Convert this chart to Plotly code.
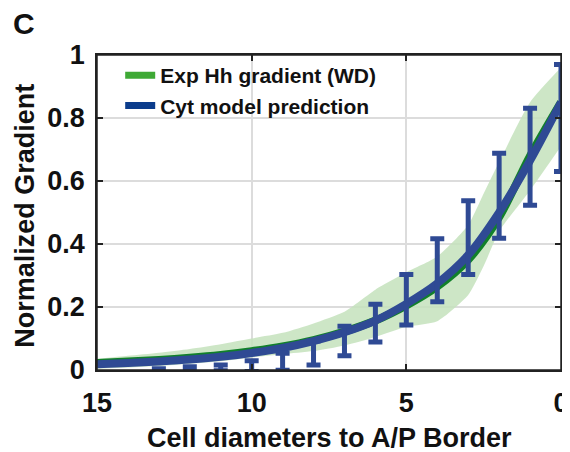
import plotly.graph_objects as go

# ---- data ----
dist = [15, 14, 13, 12, 11, 10, 9, 8, 7, 6, 5, 4, 3, 2, 1, 0]
exp_hh = [0.022, 0.027, 0.032, 0.039, 0.048, 0.060, 0.075, 0.095, 0.122, 0.157, 0.205, 0.265, 0.350, 0.485, 0.680, 0.850]
cyt_model = [0.018, 0.022, 0.027, 0.033, 0.042, 0.054, 0.070, 0.092, 0.120, 0.157, 0.210, 0.275, 0.365, 0.500, 0.665, 0.850]

band_x = [15, 14, 13, 12, 11, 10, 9, 8, 7, 6, 5, 4, 3, 2.5, 2, 1, 0]
band_upper = [0.035, 0.045, 0.055, 0.067, 0.082, 0.100, 0.118, 0.148, 0.185, 0.255, 0.310, 0.360, 0.460, 0.560, 0.660, 0.850, 0.960]
band_lower = [0.004, 0.008, 0.013, 0.020, 0.028, 0.040, 0.050, 0.060, 0.078, 0.105, 0.137, 0.155, 0.238, 0.330, 0.440, 0.570, 0.710]

bar_x = [13, 12, 11, 10, 9, 8, 7, 6, 5, 4, 3, 2, 1, 0]
bar_mean = [0.000, 0.0035, 0.007, 0.012, 0.026, 0.054, 0.092, 0.149, 0.223, 0.317, 0.420, 0.553, 0.677, 0.800]
bar_err = [0.004, 0.0065, 0.009, 0.017, 0.027, 0.038, 0.047, 0.060, 0.080, 0.100, 0.117, 0.135, 0.154, 0.170]

x_ticks = [15, 10, 5, 0]
y_ticks = [0, 0.2, 0.4, 0.6, 0.8, 1]
y_tick_text = ["0", "0.2", "0.4", "0.6", "0.8", "1"]

# ---- styles ----
FONT = "Liberation Sans, Arial, Helvetica, sans-serif"
BLUE = "#2f4a94"
GREEN_LINE = "#11802a"
BAND = "rgba(196,226,188,0.85)"
LEG_GREEN = "#3ea935"
LEG_BLUE = "#0b3c8c"
TXT = "#111111"
FRAME = "#222222"

fig = go.Figure()

fig.add_trace(go.Scatter(x=band_x, y=band_upper, mode="lines",
                         line=dict(width=0, shape="spline", smoothing=0.6),
                         showlegend=False, hoverinfo="skip"))
fig.add_trace(go.Scatter(x=band_x, y=band_lower, mode="lines",
                         line=dict(width=0, shape="spline", smoothing=0.6),
                         fill="tonexty", fillcolor=BAND, showlegend=False, hoverinfo="skip"))
fig.add_trace(go.Scatter(x=dist, y=exp_hh, mode="lines",
                         line=dict(color=GREEN_LINE, width=8, shape="spline", smoothing=0.8),
                         showlegend=False))
fig.add_trace(go.Scatter(x=dist, y=cyt_model, mode="lines",
                         line=dict(color=BLUE, width=8, shape="spline", smoothing=0.8),
                         showlegend=False))
fig.add_trace(go.Scatter(x=bar_x, y=bar_mean, mode="markers",
                         marker=dict(size=1, color=BLUE, opacity=0),
                         error_y=dict(type="data", array=bar_err, visible=True,
                                      color=BLUE, thickness=5, width=7),
                         cliponaxis=False, showlegend=False))

# legend entries
fig.add_trace(go.Scatter(x=[None], y=[None], mode="lines", name="Exp Hh gradient (WD)",
                         line=dict(color=LEG_GREEN, width=7)))
fig.add_trace(go.Scatter(x=[None], y=[None], mode="lines", name="Cyt model prediction",
                         line=dict(color=LEG_BLUE, width=7)))

axis_common = dict(
    showline=True, linecolor=FRAME, linewidth=1.5, mirror="ticks",
    ticks="inside", ticklen=6, tickwidth=1.5, tickcolor=FRAME,
    showgrid=True, gridcolor="#dcdcdc", gridwidth=1.5, zeroline=False,
    automargin=False, ticklabeloverflow="allow",
    tickfont=dict(family=FONT, size=27, color=TXT, weight="bold"),
)

# the page body has an 8px default margin, so the figure is sized to fit the window
fig.update_layout(
    width=562, height=444,
    margin=dict(l=89, r=9, t=47, b=82),
    paper_bgcolor="white", plot_bgcolor="white",
    font=dict(family=FONT, color=TXT),
    xaxis=dict(axis_common, range=[15, 0], tickvals=x_ticks, ticklabelstandoff=8),
    yaxis=dict(axis_common, range=[0, 1], tickvals=y_ticks, ticktext=y_tick_text,
               ticklabelstandoff=5),
    legend=dict(x=0.05, y=1.0, xanchor="left", yanchor="top", traceorder="normal",
                bgcolor="rgba(0,0,0,0)", borderwidth=0,
                font=dict(family=FONT, size=21, weight="bold", color=TXT),
                tracegroupgap=0),
)

# plot frame
fig.add_shape(type="rect", xref="paper", yref="paper", x0=0, y0=0, x1=1, y1=1,
              line=dict(color=FRAME, width=1.5), fillcolor="rgba(0,0,0,0)", layer="above")

fig.add_annotation(text="Cell diameters to A/P Border", xref="paper", yref="paper",
                   x=0.5, y=-0.215, xanchor="center", yanchor="middle", showarrow=False,
                   font=dict(family=FONT, size=27, weight="bold", color=TXT))
fig.add_annotation(text="Normalized Gradient", xref="paper", yref="paper",
                   x=-0.155, y=0.49, xanchor="center", yanchor="middle", textangle=-90,
                   showarrow=False, font=dict(family=FONT, size=27, weight="bold", color=TXT))
fig.add_annotation(text="C", xref="paper", yref="paper", x=-0.158, y=1.101,
                   xanchor="center", yanchor="middle", showarrow=False,
                   font=dict(family=FONT, size=30, weight="bold", color=TXT))

fig.write_html("out.html")
